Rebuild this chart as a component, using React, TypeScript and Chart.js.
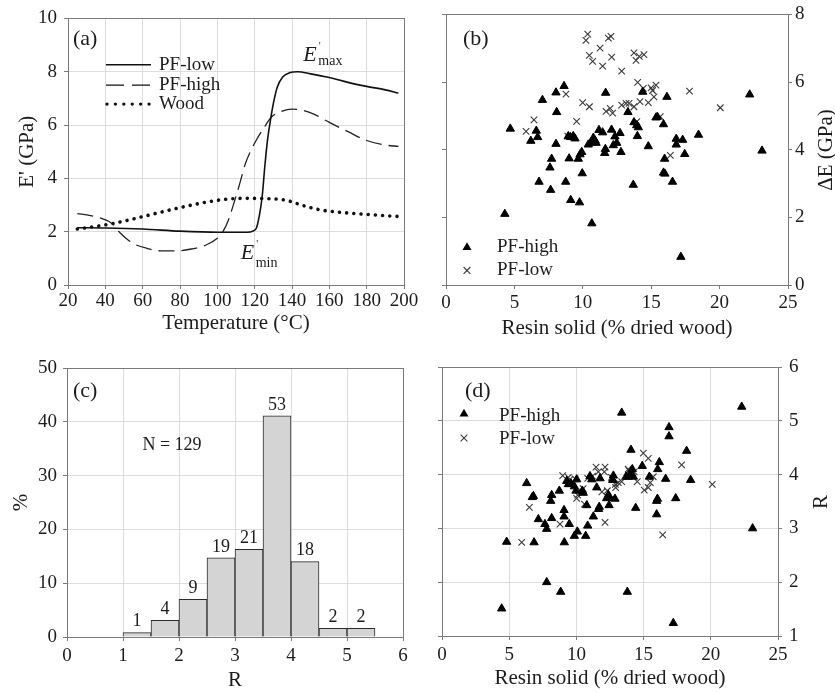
import React, { useEffect, useRef } from 'react';
import { Chart, registerables } from 'chart.js';

Chart.register(...registerables);

// ---------------- data ----------------
// (a) storage modulus vs temperature
const T_LOW = [25, 40, 60, 80, 100, 116, 119, 121, 122.5, 124, 125.5, 127, 128.5, 130, 132, 135, 139, 143, 150, 160, 170, 180, 190, 197];
const E_LOW = [2.15, 2.14, 2.1, 2.02, 1.98, 1.98, 2.02, 2.15, 2.6, 3.3, 4.5, 5.5, 6.2, 6.8, 7.4, 7.8, 7.97, 8.0, 7.92, 7.78, 7.6, 7.45, 7.32, 7.2];
const T_HIGH = [25, 32, 38, 42, 45, 48, 52, 56, 62, 70, 78, 86, 94, 100, 103, 106, 109, 112, 115, 118, 121, 125, 129, 134, 140, 146, 152, 160, 170, 180, 190, 197];
const E_HIGH = [2.68, 2.6, 2.5, 2.38, 2.2, 1.95, 1.7, 1.52, 1.38, 1.28, 1.28, 1.35, 1.5, 1.75, 2.0, 2.45, 3.1, 3.8, 4.55, 5.05, 5.45, 5.9, 6.3, 6.5, 6.6, 6.55, 6.4, 6.1, 5.75, 5.42, 5.25, 5.2];
const T_WOOD = [25, 35, 45, 55, 65, 75, 85, 95, 105, 115, 125, 135, 140, 145, 150, 155, 160, 170, 180, 190, 197];
const E_WOOD = [2.1, 2.2, 2.32, 2.48, 2.65, 2.82, 2.98, 3.12, 3.22, 3.25, 3.24, 3.2, 3.12, 3.0, 2.9, 2.82, 2.77, 2.7, 2.65, 2.6, 2.57];

// (b) delta E vs resin solid
const B_HIGH_X = [4.3, 4.7, 6.2, 6.6, 6.7, 7.05, 6.8, 7.65, 7.6, 7.72, 8.04, 8.09, 8.04, 8.63, 8.75, 8.94, 9.0, 9.1, 9.12, 9.3, 9.43, 9.67, 9.76, 9.8, 9.92, 9.96, 10.4, 10.6, 10.66, 10.77, 10.9, 10.97, 11.18, 11.45, 11.6, 11.65, 11.67, 12.1, 12.23, 12.35, 12.48, 12.72, 12.79, 13.3, 13.69, 13.74, 13.94, 14.06, 13.99, 14.38, 14.79, 15.35, 15.45, 15.9, 15.98, 15.9, 16.0, 16.15, 16.56, 16.83, 16.83, 17.17, 17.3, 17.45, 18.46, 22.2, 23.1];
const B_HIGH_Y = [2.1, 4.62, 4.26, 4.56, 4.37, 5.47, 3.05, 2.81, 3.47, 3.73, 5.69, 5.11, 4.17, 5.88, 3.05, 4.4, 3.74, 4.37, 2.51, 4.4, 4.33, 3.73, 2.44, 3.86, 3.93, 3.3, 4.15, 4.22, 1.82, 4.35, 4.27, 4.2, 4.58, 4.51, 3.9, 4.02, 5.68, 4.59, 4.13, 4.39, 4.2, 4.49, 3.93, 5.11, 2.96, 4.81, 4.72, 4.66, 4.4, 5.71, 4.1, 4.95, 4.97, 4.75, 3.73, 3.32, 3.29, 5.56, 3.05, 4.32, 4.15, 0.83, 4.29, 3.87, 4.44, 5.63, 3.97];
const B_LOW_X = [10.36, 10.23, 11.87, 12.06, 11.26, 10.48, 10.72, 11.45, 12.11, 12.84, 13.74, 13.89, 14.13, 14.47, 14.01, 14.42, 14.99, 15.35, 8.77, 9.99, 10.48, 11.7, 12.0, 12.18, 12.84, 13.16, 13.38, 13.74, 14.18, 14.79, 6.43, 5.85, 9.55, 15.2, 16.4, 17.8, 20.05, 15.66, 13.95, 8.9, 15.1];
const B_LOW_Y = [7.42, 7.23, 7.3, 7.35, 7.0, 6.79, 6.61, 6.47, 6.74, 6.32, 6.86, 6.64, 6.76, 6.81, 5.99, 5.81, 5.83, 5.91, 5.64, 5.39, 5.27, 5.13, 5.22, 5.08, 5.32, 5.37, 5.37, 5.27, 5.42, 5.39, 4.88, 4.54, 4.84, 5.56, 3.83, 5.73, 5.24, 4.98, 4.83, 4.4, 5.75];

// (c) histogram of R
const R_BINS = [1.25, 1.75, 2.25, 2.75, 3.25, 3.75, 4.25, 4.75, 5.25];
const R_PERCENT = [0.8, 3.1, 7.0, 14.7, 16.3, 41.1, 14.0, 1.6, 1.6];
const R_COUNTS = ['1', '4', '9', '19', '21', '53', '18', '2', '2'];

// (d) R vs resin solid
const D_HIGH_X = [4.44, 4.81, 7.79, 8.83, 13.79, 17.21, 13.37, 22.3, 23.11, 16.89, 16.89, 18.2, 18.5, 17.39, 16.64, 15.97, 16.03, 15.97, 16.17, 16.05, 15.43, 14.9, 14.41, 14.06, 14.16, 14.06, 13.86, 14.24, 13.69, 12.87, 12.75, 12.7, 12.38, 12.5, 12.43, 11.76, 11.51, 11.7, 11.65, 11.26, 11.01, 11.14, 10.77, 10.84, 10.69, 10.51, 10.44, 10.02, 10.07, 9.85, 9.97, 9.85, 9.6, 9.4, 9.28, 9.47, 9.08, 9.08, 9.1, 8.73, 8.16, 8.09, 8.16, 7.66, 7.79, 7.17, 6.72, 6.8, 6.3, 6.85, 12.25];
const D_HIGH_Y = [1.51, 2.75, 2.0, 1.82, 1.82, 1.24, 5.15, 5.26, 3.0, 4.88, 4.71, 4.44, 3.9, 3.56, 3.92, 3.51, 3.55, 3.26, 4.23, 4.1, 3.96, 4.16, 3.38, 4.46, 4.1, 4.01, 3.96, 3.96, 3.96, 3.55, 3.98, 3.9, 3.62, 3.57, 3.43, 3.93, 3.76, 3.4, 3.36, 3.22, 3.97, 3.91, 3.43, 3.05, 2.86, 3.66, 3.7, 3.91, 2.94, 2.86, 3.7, 3.78, 3.83, 3.82, 3.88, 3.08, 3.34, 3.22, 2.74, 3.7, 3.62, 3.51, 3.19, 3.08, 2.99, 3.17, 3.58, 3.6, 3.84, 2.74, 3.56];
const D_LOW_X = [6.5, 5.93, 8.78, 8.98, 9.52, 9.4, 10.02, 10.1, 10.4, 10.5, 10.84, 10.6, 11.46, 11.63, 12.13, 12.08, 12.13, 11.9, 12.3, 12.92, 13.12, 13.37, 13.9, 14.0, 13.85, 14.53, 14.98, 15.35, 15.05, 15.35, 15.72, 15.5, 17.83, 16.42, 20.11, 9.9, 11.2, 12.6, 14.3, 12.9];
const D_LOW_Y = [3.39, 2.74, 3.08, 3.98, 3.91, 3.95, 3.56, 3.62, 3.68, 3.74, 3.93, 3.45, 4.14, 4.05, 4.14, 4.05, 3.11, 3.68, 3.7, 3.76, 3.85, 3.87, 4.08, 4.02, 4.1, 3.87, 4.4, 4.3, 3.71, 3.76, 3.96, 3.85, 4.18, 2.88, 3.82, 3.92, 3.97, 3.95, 4.05, 3.82];

// ---------------- styling ----------------
const FONT = "'Liberation Serif', 'Times New Roman', Times, serif";
const INK = '#1c1c1c';
const AXIS = '#7a7a7a';
const GRID = '#dddddd';
const TICK_FONT = { family: FONT, size: 19, lineHeight: 1.2 };
const TITLE_FONT = { family: FONT, size: 21, lineHeight: 1.2 };

type Box = { x: number; y: number; w: number; h: number };
type Area = { l: number; t: number; r: number; b: number };

const zip = (xs: number[], ys: number[]) => xs.map((x, i) => ({ x, y: ys[i] }));

function txt(ctx: CanvasRenderingContext2D, s: string, x: number, y: number, size: number, align: CanvasTextAlign = 'left', style = 'normal', baseline: CanvasTextBaseline = 'middle') {
  ctx.save();
  ctx.font = `${style} ${size}px ${FONT}`;
  ctx.fillStyle = INK;
  ctx.textAlign = align;
  ctx.textBaseline = baseline;
  ctx.fillText(s, x, y);
  ctx.restore();
}

function vtxt(ctx: CanvasRenderingContext2D, s: string, x: number, y: number, size: number) {
  ctx.save();
  ctx.translate(x, y);
  ctx.rotate(-Math.PI / 2);
  ctx.font = `normal ${size}px ${FONT}`;
  ctx.fillStyle = INK;
  ctx.textAlign = 'center';
  ctx.textBaseline = 'middle';
  ctx.fillText(s, 0, 0);
  ctx.restore();
}

function triangle(ctx: CanvasRenderingContext2D, x: number, y: number, r: number) {
  ctx.save();
  ctx.fillStyle = '#000';
  ctx.beginPath();
  ctx.moveTo(x, y - r);
  ctx.lineTo(x + 0.866 * r, y + 0.5 * r);
  ctx.lineTo(x - 0.866 * r, y + 0.5 * r);
  ctx.closePath();
  ctx.fill();
  ctx.restore();
}

function cross(ctx: CanvasRenderingContext2D, x: number, y: number, r: number) {
  ctx.save();
  ctx.strokeStyle = '#3a3a3a';
  ctx.lineWidth = 1.1;
  const d = r * 0.7071;
  ctx.beginPath();
  ctx.moveTo(x - d, y - d);
  ctx.lineTo(x + d, y + d);
  ctx.moveTo(x + d, y - d);
  ctx.lineTo(x - d, y + d);
  ctx.stroke();
  ctx.restore();
}

const framePlugin = {
  id: 'frame',
  beforeDatasetsDraw(chart: any) {
    const { ctx, chartArea: a } = chart;
    ctx.save();
    ctx.strokeStyle = AXIS;
    ctx.lineWidth = 1;
    ctx.strokeRect(Math.round(a.left) + 0.5, Math.round(a.top) + 0.5, Math.round(a.right - a.left), Math.round(a.bottom - a.top));
    ctx.restore();
  },
};

function xScale(min: number, max: number, step: number, title: string, H: number, pad: number, grid: boolean) {
  return {
    type: 'linear',
    position: 'bottom',
    min,
    max,
    offset: false,
    ticks: { stepSize: step, font: TICK_FONT, color: INK, padding: pad, maxRotation: 0, autoSkip: false },
    grid: { display: true, drawOnChartArea: grid, color: GRID, tickColor: AXIS, tickLength: 4, offset: false },
    border: { display: true, color: AXIS },
    title: { display: true, text: title, font: TITLE_FONT, color: INK, padding: 0 },
    afterFit: (s: any) => {
      s.height = H;
    },
  };
}

function yScale(min: number, max: number, step: number, position: string, W: number, pad: number, grid: boolean, showLabels: boolean, title?: string) {
  return {
    type: 'linear',
    position,
    min,
    max,
    ticks: { stepSize: step, font: TICK_FONT, color: INK, padding: pad, display: showLabels },
    grid: { display: true, drawOnChartArea: grid, color: GRID, tickColor: AXIS, tickLength: 4 },
    border: { display: true, color: AXIS },
    title: { display: !!title, text: title || '', font: TITLE_FONT, color: INK, padding: 0 },
    afterFit: (s: any) => {
      s.width = W;
    },
  };
}

function baseOptions(padding: any, scales: any) {
  return {
    animation: false,
    responsive: false,
    maintainAspectRatio: false,
    devicePixelRatio: 1,
    layout: { padding },
    scales,
    plugins: { legend: { display: false }, tooltip: { enabled: false } },
    events: [],
  };
}

// ---------------- panel geometry (page px) ----------------
const BOX_A: Box = { x: 0, y: 0, w: 420, h: 342 };
const AREA_A: Area = { l: 68, t: 16, r: 404, b: 285 };
const BOX_B: Box = { x: 420, y: 0, w: 415, h: 342 };
const AREA_B: Area = { l: 446, t: 11, r: 788, b: 285 };
const BOX_C: Box = { x: 0, y: 342, w: 420, h: 351 };
const AREA_C: Area = { l: 67, t: 368, r: 403, b: 637 };
const BOX_D: Box = { x: 420, y: 342, w: 415, h: 351 };
const AREA_D: Area = { l: 442, t: 367, r: 778, b: 636 };

function pad(box: Box, area: Area, leftW: number, rightW: number, bottomH: number) {
  return {
    left: area.l - box.x - leftW,
    top: area.t - box.y,
    right: box.x + box.w - area.r - rightW,
    bottom: box.y + box.h - area.b - bottomH,
  };
}

// ---------------- configs ----------------
function configA() {
  const W = 53.6, H = 50.6;
  const annot = {
    id: 'annotA',
    afterDraw(chart: any) {
      const { ctx, chartArea: a } = chart;
      txt(ctx, '(a)', a.left + 5, a.top + 21, 22);
      // legend
      const x0 = a.left + 38, x1 = a.left + 83, tx = a.left + 91;
      const rows = [a.top + 46.3, a.top + 66.7, a.top + 85.7];
      ctx.save();
      ctx.strokeStyle = '#111';
      ctx.lineWidth = 1.5;
      ctx.beginPath(); ctx.moveTo(x0, rows[0]); ctx.lineTo(x1, rows[0]); ctx.stroke();
      ctx.lineWidth = 1.3;
      ctx.setLineDash([18, 8]);
      ctx.beginPath(); ctx.moveTo(x0, rows[1]); ctx.lineTo(x1, rows[1]); ctx.stroke();
      ctx.lineWidth = 3.4;
      ctx.lineCap = 'round';
      ctx.setLineDash([0.01, 8.4]);
      ctx.beginPath(); ctx.moveTo(x0 + 1, rows[2]); ctx.lineTo(x1, rows[2]); ctx.stroke();
      ctx.restore();
      txt(ctx, 'PF-low', tx, rows[0], 19);
      txt(ctx, 'PF-high', tx, rows[1], 19);
      txt(ctx, 'Wood', tx, rows[2], 19);
      // E'max / E'min annotations
      const drawE = (ex: number, base: number, sub: string, subBase: number) => {
        txt(ctx, 'E', ex, base, 22, 'left', 'italic', 'alphabetic');
        txt(ctx, "'", ex + 15.5, base - 12, 11, 'left', 'normal', 'alphabetic');
        txt(ctx, sub, ex + 15, subBase, 14, 'left', 'normal', 'alphabetic');
      };
      drawE(a.left + 235.3, a.top + 42.3, 'max', a.top + 47);
      drawE(a.left + 172.7, a.top + 240.7, 'min', a.top + 249);
    },
  };
  return {
    type: 'line',
    data: {
      datasets: [
        { label: 'PF-low', data: zip(T_LOW, E_LOW), borderColor: '#111', borderWidth: 1.6, pointRadius: 0, cubicInterpolationMode: 'monotone', fill: false },
        { label: 'PF-high', data: zip(T_HIGH, E_HIGH), borderColor: '#222', borderWidth: 1.3, borderDash: [16, 7], pointRadius: 0, cubicInterpolationMode: 'monotone', fill: false },
        { label: 'Wood', data: zip(T_WOOD, E_WOOD), borderColor: '#111', borderWidth: 3.6, borderDash: [0.01, 7.2], borderCapStyle: 'round', pointRadius: 0, cubicInterpolationMode: 'monotone', fill: false },
      ],
    },
    options: baseOptions(pad(BOX_A, AREA_A, W, 0, H), {
      x: xScale(20, 200, 20, 'Temperature (°C)', H, 1, true),
      y: yScale(0, 10, 2, 'left', W, 7, true, true, "E' (GPa)"),
    }),
    plugins: [framePlugin, annot],
  };
}

function scatterSets(hx: number[], hy: number[], lx: number[], ly: number[]) {
  return [
    { label: 'PF-high', data: zip(hx, hy), pointStyle: 'triangle', pointRadius: 4.8, backgroundColor: '#000', borderColor: '#000', borderWidth: 1, yAxisID: 'y' },
    { label: 'PF-low', data: zip(lx, ly), pointStyle: 'crossRot', pointRadius: 4.6, backgroundColor: '#3a3a3a', borderColor: '#3a3a3a', borderWidth: 1.1, yAxisID: 'y' },
  ];
}

function configB() {
  const H = 55.6, WL = 10, WR = 25;
  const annot = {
    id: 'annotB',
    afterDraw(chart: any) {
      const { ctx, chartArea: a } = chart;
      txt(ctx, '(b)', a.left + 17, a.top + 25, 22);
      triangle(ctx, a.left + 21, a.top + 233, 5.2);
      txt(ctx, 'PF-high', a.left + 51, a.top + 233, 19);
      cross(ctx, a.left + 21, a.top + 256, 4.8);
      txt(ctx, 'PF-low', a.left + 51, a.top + 256, 19);
      vtxt(ctx, 'ΔE (GPa)', 826 - BOX_B.x, 150 - BOX_B.y, 21);
    },
  };
  return {
    type: 'scatter',
    data: { datasets: scatterSets(B_HIGH_X, B_HIGH_Y, B_LOW_X, B_LOW_Y) },
    options: baseOptions(pad(BOX_B, AREA_B, WL, WR, H), {
      x: xScale(0, 25, 5, 'Resin solid (% dried wood)', H, 3, false),
      yl: yScale(0, 8, 2, 'left', WL, 3, false, false),
      y: yScale(0, 8, 2, 'right', WR, 3, false, true),
    }),
    plugins: [framePlugin, annot],
  };
}

function configC() {
  const W = 58.6, H = 55.6;
  const annot = {
    id: 'annotC',
    afterDraw(chart: any) {
      const { ctx, chartArea: a, scales } = chart;
      txt(ctx, '(c)', a.left + 6, a.top + 23.5, 22);
      txt(ctx, 'N = 129', scales.x.getPixelForValue(1.875), scales.y.getPixelForValue(35.7), 18, 'center');
      const meta = chart.getDatasetMeta(0);
      meta.data.forEach((bar: any, i: number) => {
        txt(ctx, R_COUNTS[i], bar.x, bar.y - 11, 18, 'center');
      });
    },
  };
  return {
    type: 'bar',
    data: {
      datasets: [
        {
          label: 'R',
          data: zip(R_BINS, R_PERCENT),
          backgroundColor: '#d4d4d4',
          borderColor: '#2a2a2a',
          borderWidth: 1,
          barPercentage: 1,
          categoryPercentage: 1,
        },
      ],
    },
    options: baseOptions(pad(BOX_C, AREA_C, W, 0, H), {
      x: xScale(0, 6, 1, 'R', H, 4, true),
      y: yScale(0, 50, 10, 'left', W, 6, true, true, '%'),
    }),
    plugins: [framePlugin, annot],
  };
}

function configD() {
  const H = 54.6, WL = 10, WR = 25;
  const annot = {
    id: 'annotD',
    afterDraw(chart: any) {
      const { ctx, chartArea: a } = chart;
      txt(ctx, '(d)', a.left + 23, a.top + 24.5, 22);
      triangle(ctx, a.left + 22, a.top + 47, 5.2);
      txt(ctx, 'PF-high', a.left + 57, a.top + 49, 19);
      cross(ctx, a.left + 22, a.top + 71, 4.8);
      txt(ctx, 'PF-low', a.left + 57, a.top + 72, 19);
      vtxt(ctx, 'R', 821 - BOX_D.x, 502 - BOX_D.y, 21);
    },
  };
  return {
    type: 'scatter',
    data: { datasets: scatterSets(D_HIGH_X, D_HIGH_Y, D_LOW_X, D_LOW_Y) },
    options: baseOptions(pad(BOX_D, AREA_D, WL, WR, H), {
      x: xScale(0, 25, 5, 'Resin solid (% dried wood)', H, 4, true),
      yl: yScale(1, 6, 1, 'left', WL, 3, false, false),
      y: yScale(1, 6, 1, 'right', WR, 7, true, true),
    }),
    plugins: [framePlugin, annot],
  };
}

function Panel({ box, build }: { box: Box; build: () => any }) {
  const ref = useRef<HTMLCanvasElement>(null);
  useEffect(() => {
    const chart = new Chart(ref.current as HTMLCanvasElement, build());
    return () => chart.destroy();
  }, []);
  return (
    <canvas
      ref={ref}
      width={box.w}
      height={box.h}
      style={{ position: 'absolute', left: box.x, top: box.y, width: box.w, height: box.h }}
    />
  );
}

export default function App() {
  return (
    <div style={{ position: 'absolute', left: 0, top: 0, width: 835, height: 693, background: '#fff' }}>
      <Panel box={BOX_A} build={configA} />
      <Panel box={BOX_B} build={configB} />
      <Panel box={BOX_C} build={configC} />
      <Panel box={BOX_D} build={configD} />
    </div>
  );
}
